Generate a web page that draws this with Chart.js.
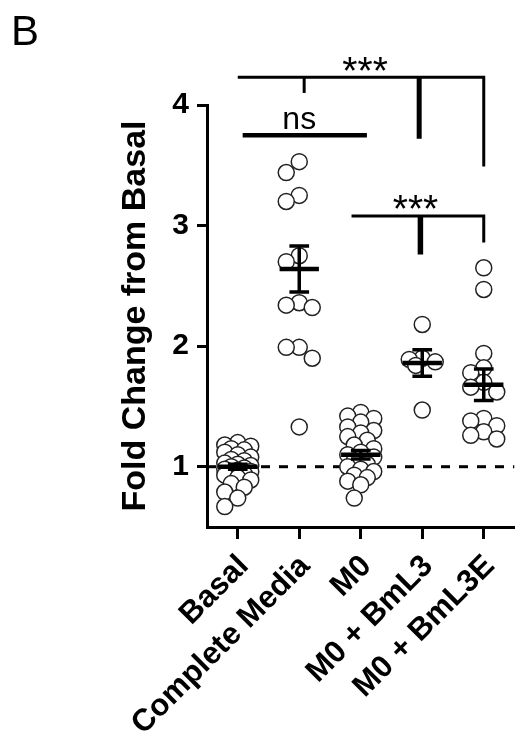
<!DOCTYPE html>
<html>
<head>
<meta charset="utf-8">
<script src="https://cdn.jsdelivr.net/npm/chart.js@4.4.0/dist/chart.umd.min.js"></script>
<style>
  html, body { margin: 0; padding: 0; background: #fff; overflow: hidden; }
  #wrap { position: relative; width: 524px; height: 740px; }
</style>
</head>
<body>
<div id="wrap"><canvas id="c" width="524" height="740"></canvas></div>
<script>
// Groups on the x axis
const categories = ['Basal', 'Complete Media', 'M0', 'M0 + BmL3', 'M0 + BmL3E'];

// Fold change from basal, one value per replicate
const basal = [1.20, 1.18, 1.17, 1.15, 1.14, 1.12, 1.10, 1.08, 1.06, 1.05,
               1.03, 1.02, 1.01, 1.00, 0.99, 0.98, 0.97, 0.96, 0.95, 0.94,
               0.93, 0.91, 0.89, 0.86, 0.83, 0.79, 0.74, 0.67];
const completeMedia = [3.53, 3.44, 3.25, 3.20, 2.75, 2.70, 2.36, 2.34, 2.32,
                       1.99, 1.99, 1.90, 1.33];
const m0 = [1.45, 1.42, 1.40, 1.37, 1.33, 1.30, 1.28, 1.25, 1.22, 1.18, 1.15, 1.12,
            1.10, 1.08, 1.05, 1.02, 1.00, 0.98, 0.96, 0.93, 0.91, 0.88, 0.85, 0.74];
const m0BmL3 = [2.18, 1.90, 1.89, 1.87, 1.84, 1.47];
const m0BmL3E = [2.65, 2.47, 1.94, 1.82, 1.78, 1.70, 1.66, 1.62, 1.40, 1.38,
                 1.34, 1.29, 1.26, 1.23];

// Group mean and standard error bars
const groupMeans = [1.00, 2.64, 1.10, 1.86, 1.68];
const groupSem = [0.02, 0.19, 0.035, 0.11, 0.13];

// Axis ticks and reference level
const yTicks = [1, 2, 3, 4];
const baselineValue = 1;

// Significance labels: Basal..M0 vs BmL3 groups, Basal vs M0, M0 vs BmL3 groups
const sigLabels = ['***', 'ns', '***'];

const groups = [basal, completeMedia, m0, m0BmL3, m0BmL3E];
const FONT = "'Liberation Sans', Arial, Helvetica, sans-serif";

function scatterData(offsets) {
  return groups.map((vals, i) => vals.map((v, j) => ({ x: i + (offsets ? offsets[i][j] : 0), y: v })));
}

function meanSegments() {
  const pts = [];
  groupMeans.forEach((m, i) => {
    pts.push({ x: i - 0.32, y: m }, { x: i + 0.32, y: m }, { x: i, y: null });
  });
  return pts;
}

function semSegments() {
  const pts = [];
  groupMeans.forEach((m, i) => {
    const lo = m - groupSem[i], hi = m + groupSem[i];
    pts.push({ x: i, y: lo }, { x: i, y: hi }, { x: i, y: null });
    pts.push({ x: i - 0.16, y: hi }, { x: i + 0.16, y: hi }, { x: i, y: null });
    pts.push({ x: i - 0.16, y: lo }, { x: i + 0.16, y: lo }, { x: i, y: null });
  });
  return pts;
}

// Significance brackets and panel letter
const annotations = {
  id: 'annotations',
  afterDatasetsDraw(chart) {
    const { ctx, scales: { x, y } } = chart;
    const X = v => x.getPixelForValue(v);
    const Y = v => y.getPixelForValue(v);
    ctx.save();
    ctx.strokeStyle = '#000';
    ctx.fillStyle = '#000';
    ctx.lineCap = 'butt';
    ctx.lineJoin = 'miter';
    const path = (pts, w) => {
      ctx.beginPath();
      ctx.lineWidth = w;
      pts.forEach((p, k) => k ? ctx.lineTo(X(p[0]), Y(p[1])) : ctx.moveTo(X(p[0]), Y(p[1])));
      ctx.stroke();
    };
    // upper comparison
    path([[0, 4.23], [4, 4.23], [4, 3.49]], 3);
    path([[1.08, 4.23], [1.08, 4.10]], 3);
    path([[2.95, 4.23], [2.95, 3.72]], 5);
    // Basal vs M0
    path([[0.08, 3.75], [2.1, 3.75]], 4.5);
    // lower comparison
    path([[1.85, 3.08], [4, 3.08], [4, 2.86]], 3);
    path([[2.97, 3.08], [2.97, 2.76]], 5.5);

    ctx.textAlign = 'center';
    ctx.textBaseline = 'alphabetic';
    ctx.font = `39px ${FONT}`;
    ctx.fillText(sigLabels[0], X(2.07), Y(4.36) + 0.57 * 39);
    ctx.fillText(sigLabels[2], X(2.89), Y(3.21) + 0.57 * 39);
    ctx.font = `32px ${FONT}`;
    ctx.fillText(sigLabels[1], X(1.0), Y(3.80));

    ctx.textAlign = 'left';
    ctx.font = `42px ${FONT}`;
    ctx.fillText('B', 11, 45);
    ctx.restore();
  }
};

const chart = new Chart(document.getElementById('c'), {
  type: 'scatter',
  data: {
    datasets: [
      {
        label: 'baseline',
        type: 'line',
        data: [{ x: -0.5, y: baselineValue }, { x: 4.5, y: baselineValue }],
        borderColor: '#000',
        borderWidth: 3,
        borderDash: [9, 9],
        pointRadius: 0,
        order: 5
      },
      ...scatterData(null).map((d, i) => ({
        label: categories[i],
        data: d,
        pointRadius: 8,
        pointBorderWidth: 1.5,
        pointBorderColor: '#222',
        pointBackgroundColor: '#fff',
        order: 3
      })),
      {
        label: 'SEM',
        type: 'line',
        data: semSegments(),
        borderColor: '#000',
        borderWidth: 3.5,
        pointRadius: 0,
        spanGaps: false,
        order: 1
      },
      {
        label: 'Mean',
        type: 'line',
        data: meanSegments(),
        borderColor: '#000',
        borderWidth: 4.5,
        pointRadius: 0,
        spanGaps: false,
        order: 0
      }
    ]
  },
  options: {
    responsive: false,
    animation: false,
    layout: { padding: { top: 105, right: 2.5, bottom: 0, left: 0 } },
    plugins: { legend: { display: false }, tooltip: { enabled: false } },
    scales: {
      x: {
        type: 'linear',
        min: -0.5,
        max: 4.5,
        afterBuildTicks: s => { s.ticks = categories.map((c, i) => ({ value: i })); },
        afterFit: s => { s.height = 213; s.paddingLeft = 0; s.paddingRight = 0; },
        ticks: {
          autoSkip: false,
          minRotation: 45,
          maxRotation: 45,
          padding: 9,
          labelOffset: 6,
          color: '#000',
          font: { family: FONT, size: 31, weight: 'bold' },
          callback: v => categories[v]
        },
        grid: { drawOnChartArea: false, drawTicks: true, tickLength: 12, tickWidth: 3, color: '#000' },
        border: { display: true, width: 3, color: '#000' }
      },
      y: {
        min: 0.5,
        max: 4,
        afterBuildTicks: s => { s.ticks = yTicks.map(v => ({ value: v })); },
        afterFit: s => { s.width = 207; },
        ticks: {
          padding: 8,
          color: '#000',
          font: { family: FONT, size: 30, weight: 'bold' }
        },
        grid: { drawOnChartArea: false, drawTicks: true, tickLength: 10, tickWidth: 3, color: '#000' },
        border: { display: true, width: 3, color: '#000' },
        title: {
          display: true,
          text: 'Fold Change from Basal',
          color: '#000',
          font: { family: FONT, size: 34, weight: 'bold' },
          padding: { top: 115, bottom: 0 }
        }
      }
    }
  },
  plugins: [annotations]
});

// Spread each group's points sideways so overlapping circles stay readable
function swarmOffsets(values, pxPerY, pxPerX) {
  const minDist = 13.5, step = 6.5, maxOff = 14;
  const cands = [0];
  for (let k = 1; k * step <= maxOff + 0.01; k++) cands.push(-k * step, k * step);
  const order = values.map((v, i) => i).sort((a, b) => values[b] - values[a]);
  const placed = [];
  const out = new Array(values.length).fill(0);
  for (const i of order) {
    const py = values[i] * pxPerY;
    let best = 0, bestD = -1;
    for (const c of cands) {
      let d = Infinity;
      for (const p of placed) d = Math.min(d, Math.hypot(c - p.x, py - p.y));
      if (d >= minDist) { best = c; bestD = d; break; }
      if (d > bestD) { bestD = d; best = c; }
    }
    placed.push({ x: best, y: py });
    out[i] = best / pxPerX;
  }
  return out;
}

const xs = chart.scales.x, ys = chart.scales.y;
const pxPerX = xs.getPixelForValue(1) - xs.getPixelForValue(0);
const pxPerY = ys.getPixelForValue(1) - ys.getPixelForValue(2);
const offsets = groups.map(vals => swarmOffsets(vals, pxPerY, pxPerX));
scatterData(offsets).forEach((d, i) => { chart.data.datasets[i + 1].data = d; });
chart.update('none');
</script>
</body>
</html>
